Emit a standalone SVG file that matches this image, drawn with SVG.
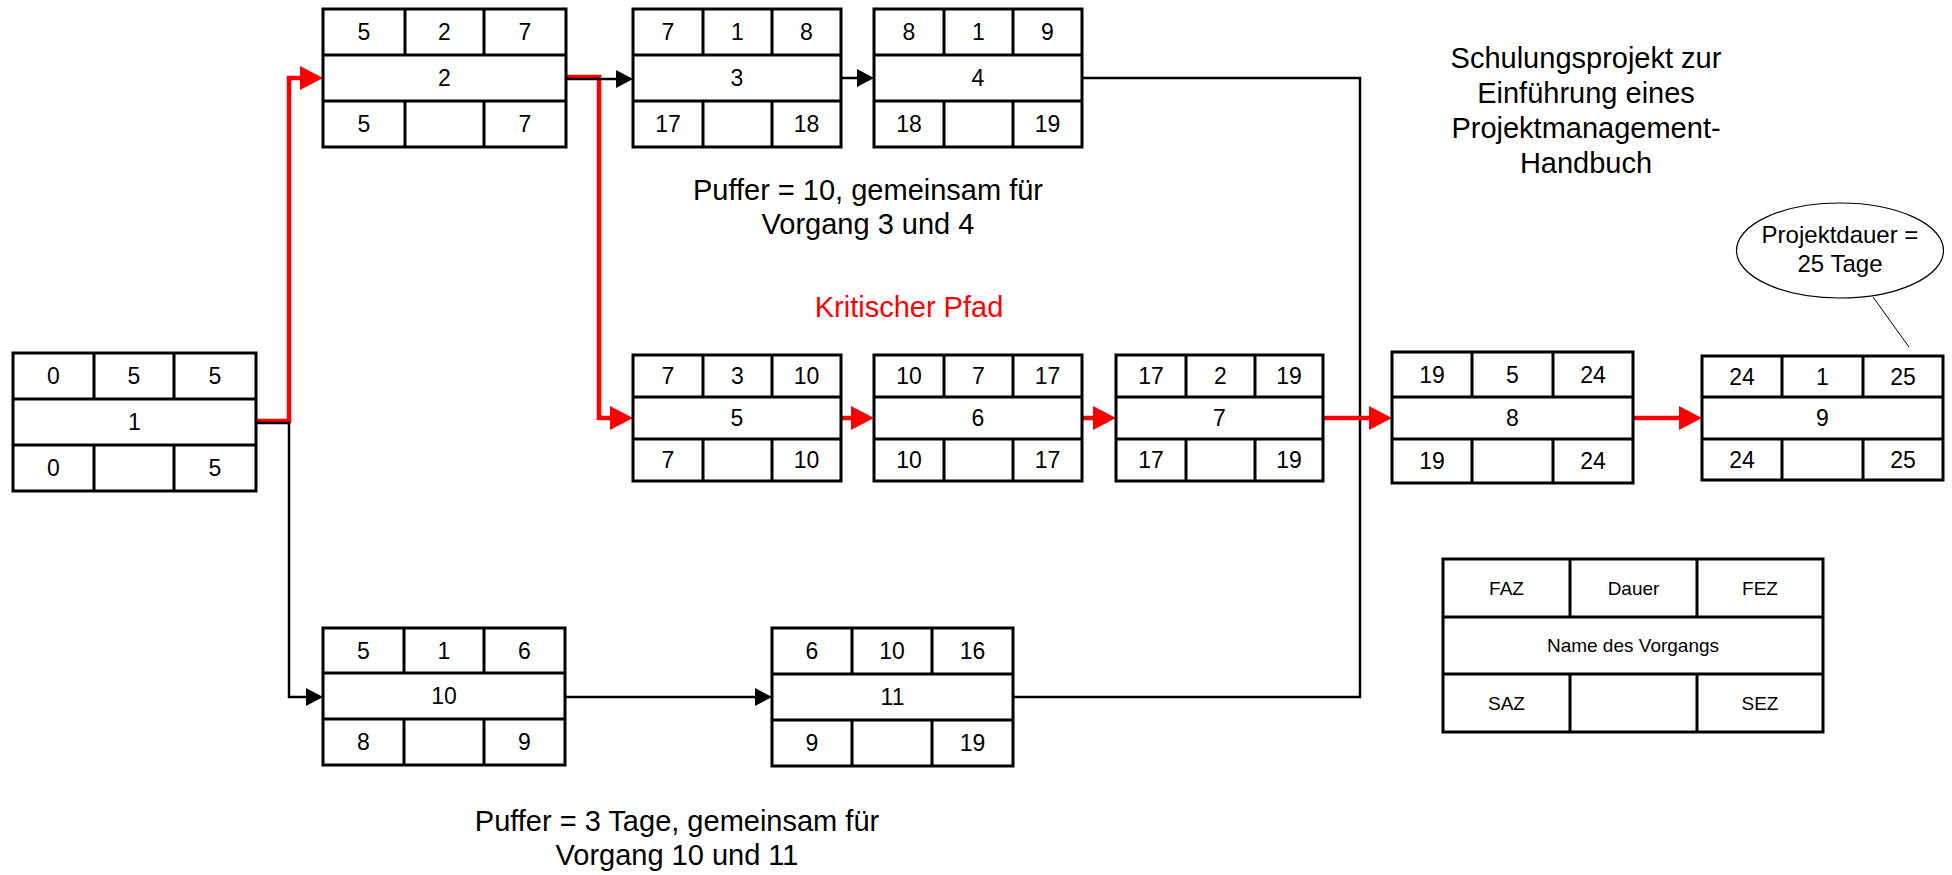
<svg xmlns="http://www.w3.org/2000/svg" width="1952" height="875" viewBox="0 0 1952 875">
  <style>
    .box { fill: #fff; stroke: #000; stroke-width: 3; }
    .grid { stroke: #000; stroke-width: 3; fill: none; }
    .num { font-family: "Liberation Sans", Arial, sans-serif; font-size: 23px; text-anchor: middle; fill: #000; }
    .lbl { font-family: "Liberation Sans", Arial, sans-serif; font-size: 19px; text-anchor: middle; fill: #000; }
    .note { font-family: "Liberation Sans", Arial, sans-serif; font-size: 29px; text-anchor: middle; fill: #000; }
    .crit { fill: #ff0000; }
    .blk { fill: none; stroke: #000; stroke-width: 2.5; }
    .red { fill: none; stroke: #ff0000; stroke-width: 4.5; }
    .callout { font-family: "Liberation Sans", Arial, sans-serif; font-size: 24px; text-anchor: middle; fill: #000; }
  </style>
  <defs>
    <marker id="ahBlack" markerUnits="userSpaceOnUse" markerWidth="17" markerHeight="18" refX="14" refY="9" orient="auto">
      <path d="M0,0 L17,9 L0,18 z" fill="#000"/>
    </marker>
    <marker id="ahRed" markerUnits="userSpaceOnUse" markerWidth="23" markerHeight="24" refX="17" refY="12" orient="auto">
      <path d="M0,0 L23,12 L0,24 z" fill="#ff0000"/>
    </marker>
  </defs>

  <rect width="1952" height="875" fill="#fff"/>

  <!-- connectors -->
  <g id="connectors">
    <path class="blk" d="M1082,78 H1360 V697 H1013"/>
    <path class="red" d="M256,421 H289 V78 H317" marker-end="url(#ahRed)"/>
    <path class="red" d="M566,77 H599 V418 H627" marker-end="url(#ahRed)"/>
    <path class="red" d="M841,418 H868" marker-end="url(#ahRed)"/>
    <path class="red" d="M1082,418 H1110" marker-end="url(#ahRed)"/>
    <path class="red" d="M1323,418 H1386" marker-end="url(#ahRed)"/>
    <path class="red" d="M1633,418 H1696" marker-end="url(#ahRed)"/>
    <path class="blk" d="M256,423 H289 V697 H320" marker-end="url(#ahBlack)"/>
    <path class="blk" d="M566,79 H630" marker-end="url(#ahBlack)"/>
    <path class="blk" d="M841,78 H871" marker-end="url(#ahBlack)"/>
    <path class="blk" d="M565,697 H769" marker-end="url(#ahBlack)"/>
  </g>

  <!-- Vorgang 1 -->
  <g id="node1">
    <rect class="box" x="13" y="353" width="243" height="138"/>
    <path class="grid" d="M13,399 H256 M13,445 H256 M94,353 V399 M174,353 V399 M94,445 V491 M174,445 V491"/>
    <text class="num" x="53.5" y="384">0</text>
    <text class="num" x="134" y="384">5</text>
    <text class="num" x="215" y="384">5</text>
    <text class="num" x="134.5" y="430">1</text>
    <text class="num" x="53.5" y="476">0</text>
    <text class="num" x="215" y="476">5</text>
  </g>

  <!-- Vorgang 2 -->
  <g id="node2">
    <rect class="box" x="323" y="9" width="243" height="138"/>
    <path class="grid" d="M323,55 H566 M323,101 H566 M405,9 V55 M484,9 V55 M405,101 V147 M484,101 V147"/>
    <text class="num" x="364" y="40">5</text>
    <text class="num" x="444.5" y="40">2</text>
    <text class="num" x="525" y="40">7</text>
    <text class="num" x="444.5" y="86">2</text>
    <text class="num" x="364" y="132">5</text>
    <text class="num" x="525" y="132">7</text>
  </g>

  <!-- Vorgang 3 -->
  <g id="node3">
    <rect class="box" x="633" y="9" width="208" height="138"/>
    <path class="grid" d="M633,55 H841 M633,101 H841 M703,9 V55 M772,9 V55 M703,101 V147 M772,101 V147"/>
    <text class="num" x="668" y="40">7</text>
    <text class="num" x="737.5" y="40">1</text>
    <text class="num" x="806.5" y="40">8</text>
    <text class="num" x="737" y="86">3</text>
    <text class="num" x="668" y="132">17</text>
    <text class="num" x="806.5" y="132">18</text>
  </g>

  <!-- Vorgang 4 -->
  <g id="node4">
    <rect class="box" x="874" y="9" width="208" height="138"/>
    <path class="grid" d="M874,55 H1082 M874,101 H1082 M944,9 V55 M1013,9 V55 M944,101 V147 M1013,101 V147"/>
    <text class="num" x="909" y="40">8</text>
    <text class="num" x="978.5" y="40">1</text>
    <text class="num" x="1047.5" y="40">9</text>
    <text class="num" x="978" y="86">4</text>
    <text class="num" x="909" y="132">18</text>
    <text class="num" x="1047.5" y="132">19</text>
  </g>

  <!-- Vorgang 5 -->
  <g id="node5">
    <rect class="box" x="633" y="355" width="208" height="126"/>
    <path class="grid" d="M633,397 H841 M633,439 H841 M703,355 V397 M772,355 V397 M703,439 V481 M772,439 V481"/>
    <text class="num" x="668" y="384">7</text>
    <text class="num" x="737.5" y="384">3</text>
    <text class="num" x="806.5" y="384">10</text>
    <text class="num" x="737" y="426">5</text>
    <text class="num" x="668" y="468">7</text>
    <text class="num" x="806.5" y="468">10</text>
  </g>

  <!-- Vorgang 6 -->
  <g id="node6">
    <rect class="box" x="874" y="355" width="208" height="126"/>
    <path class="grid" d="M874,397 H1082 M874,439 H1082 M944,355 V397 M1013,355 V397 M944,439 V481 M1013,439 V481"/>
    <text class="num" x="909" y="384">10</text>
    <text class="num" x="978.5" y="384">7</text>
    <text class="num" x="1047.5" y="384">17</text>
    <text class="num" x="978" y="426">6</text>
    <text class="num" x="909" y="468">10</text>
    <text class="num" x="1047.5" y="468">17</text>
  </g>

  <!-- Vorgang 7 -->
  <g id="node7">
    <rect class="box" x="1116" y="355" width="207" height="126"/>
    <path class="grid" d="M1116,397 H1323 M1116,439 H1323 M1186,355 V397 M1255,355 V397 M1186,439 V481 M1255,439 V481"/>
    <text class="num" x="1151" y="384">17</text>
    <text class="num" x="1220.5" y="384">2</text>
    <text class="num" x="1289" y="384">19</text>
    <text class="num" x="1219.5" y="426">7</text>
    <text class="num" x="1151" y="468">17</text>
    <text class="num" x="1289" y="468">19</text>
  </g>

  <!-- Vorgang 8 -->
  <g id="node8">
    <rect class="box" x="1392" y="352" width="241" height="131"/>
    <path class="grid" d="M1392,397 H1633 M1392,439 H1633 M1472,352 V397 M1553,352 V397 M1472,439 V483 M1553,439 V483"/>
    <text class="num" x="1432" y="383">19</text>
    <text class="num" x="1512.5" y="383">5</text>
    <text class="num" x="1593" y="383">24</text>
    <text class="num" x="1512.5" y="426">8</text>
    <text class="num" x="1432" y="469">19</text>
    <text class="num" x="1593" y="469">24</text>
  </g>

  <!-- Vorgang 9 -->
  <g id="node9">
    <rect class="box" x="1702" y="356" width="241" height="124"/>
    <path class="grid" d="M1702,397 H1943 M1702,439 H1943 M1782,356 V397 M1863,356 V397 M1782,439 V480 M1863,439 V480"/>
    <text class="num" x="1742" y="385">24</text>
    <text class="num" x="1822.5" y="385">1</text>
    <text class="num" x="1903" y="385">25</text>
    <text class="num" x="1822.5" y="426">9</text>
    <text class="num" x="1742" y="468">24</text>
    <text class="num" x="1903" y="468">25</text>
  </g>

  <!-- Vorgang 10 -->
  <g id="node10">
    <rect class="box" x="323" y="628" width="242" height="137"/>
    <path class="grid" d="M323,673 H565 M323,719 H565 M404,628 V673 M484,628 V673 M404,719 V765 M484,719 V765"/>
    <text class="num" x="363.5" y="659">5</text>
    <text class="num" x="444" y="659">1</text>
    <text class="num" x="524.5" y="659">6</text>
    <text class="num" x="444" y="704">10</text>
    <text class="num" x="363.5" y="750">8</text>
    <text class="num" x="524.5" y="750">9</text>
  </g>

  <!-- Vorgang 11 -->
  <g id="node11">
    <rect class="box" x="772" y="628" width="241" height="138"/>
    <path class="grid" d="M772,674 H1013 M772,720 H1013 M852,628 V674 M932,628 V674 M852,720 V766 M932,720 V766"/>
    <text class="num" x="812" y="659">6</text>
    <text class="num" x="892" y="659">10</text>
    <text class="num" x="972.5" y="659">16</text>
    <text class="num" x="892.5" y="705">11</text>
    <text class="num" x="812" y="751">9</text>
    <text class="num" x="972.5" y="751">19</text>
  </g>

  <!-- Legende -->
  <g id="legend">
    <rect class="box" x="1443" y="559" width="380" height="173"/>
    <path class="grid" d="M1443,617 H1823 M1443,674 H1823 M1570,559 V617 M1697,559 V617 M1570,674 V732 M1697,674 V732"/>
    <text class="lbl" x="1506.5" y="595">FAZ</text>
    <text class="lbl" x="1633.5" y="595">Dauer</text>
    <text class="lbl" x="1760" y="595">FEZ</text>
    <text class="lbl" x="1633" y="652">Name des Vorgangs</text>
    <text class="lbl" x="1506.5" y="710">SAZ</text>
    <text class="lbl" x="1760" y="710">SEZ</text>
  </g>

  <!-- Projektdauer -->
  <g id="duration">
    <line x1="1873" y1="297" x2="1909" y2="347" stroke="#000" stroke-width="1"/>
    <ellipse cx="1840" cy="250.5" rx="103.5" ry="47.5" fill="#fff" stroke="#000" stroke-width="1.2"/>
    <text class="callout" x="1840" y="243">Projektdauer =</text>
    <text class="callout" x="1840" y="272">25 Tage</text>
  </g>

  <!-- Titel -->
  <g id="title">
    <text class="note" x="1586" y="68">Schulungsprojekt zur</text>
    <text class="note" x="1586" y="103">Einführung eines</text>
    <text class="note" x="1586" y="138">Projektmanagement-</text>
    <text class="note" x="1586" y="173">Handbuch</text>
  </g>

  <!-- Hinweise -->
  <g id="buffer34">
    <text class="note" x="868" y="200">Puffer = 10, gemeinsam für</text>
    <text class="note" x="868" y="234">Vorgang 3 und 4</text>
  </g>
  <g id="critical">
    <text class="note crit" x="909" y="317">Kritischer Pfad</text>
  </g>
  <g id="buffer1011">
    <text class="note" x="677" y="831">Puffer = 3 Tage, gemeinsam für</text>
    <text class="note" x="677" y="865">Vorgang 10 und 11</text>
  </g>
</svg>
